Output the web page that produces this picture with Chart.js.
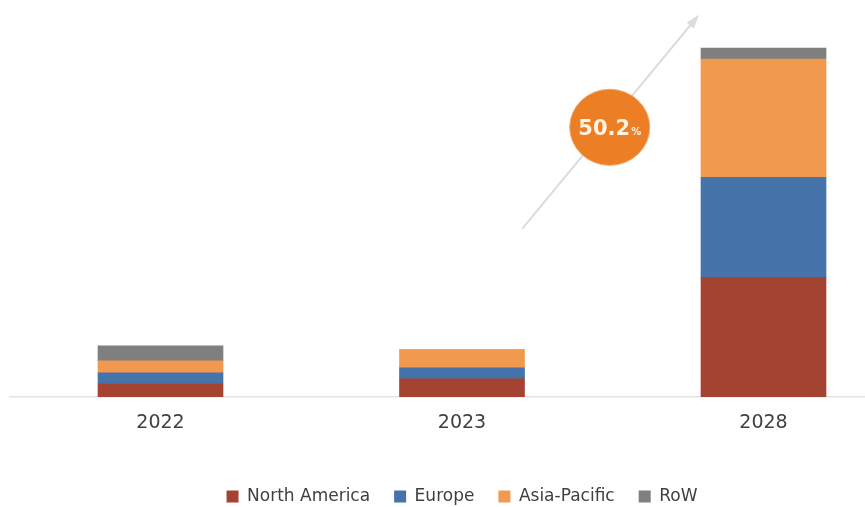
<!DOCTYPE html>
<html>
<head>
<meta charset="utf-8">
<script src="https://cdn.jsdelivr.net/npm/chart.js@4"></script>
<style>
  html, body { margin: 0; padding: 0; background: #fff; overflow: hidden; }
  #wrap { position: relative; width: 920px; height: 515px; }
</style>
</head>
<body>
<div id="wrap"><canvas id="regionChart"></canvas></div>
<script>
const years = ["2022", "2023", "2028"];
const northAmerica = [13, 18, 119];
const europe = [11, 11, 100];
const asiaPacific = [12, 18, 118];
const restOfWorld = [15, 0, 11];
const growthLabel = "50.2";

// arrow + bubble showing the CAGR
const cagrBadge = {
  id: "cagrBadge",
  afterDraw(chart) {
    const ctx = chart.ctx;
    const x = chart.scales.x;
    const y = chart.scales.y;
    const step = x.getPixelForValue(2) - x.getPixelForValue(1);
    const base = x.getPixelForValue(1);

    const x0 = base + step * 0.2, y0 = y.getPixelForValue(168);
    const x1 = base + step * 0.78, y1 = y.getPixelForValue(379);

    ctx.save();
    ctx.strokeStyle = "#dcdcdc";
    ctx.fillStyle = "#dcdcdc";
    ctx.lineWidth = 2;
    ctx.beginPath();
    ctx.moveTo(x0, y0);
    ctx.lineTo(x1, y1);
    ctx.stroke();
    const ang = Math.atan2(y1 - y0, x1 - x0);
    ctx.beginPath();
    ctx.moveTo(x1 + 3 * Math.cos(ang), y1 + 3 * Math.sin(ang));
    ctx.lineTo(x1 - 12 * Math.cos(ang - 0.4), y1 - 12 * Math.sin(ang - 0.4));
    ctx.lineTo(x1 - 12 * Math.cos(ang + 0.4), y1 - 12 * Math.sin(ang + 0.4));
    ctx.closePath();
    ctx.fill();

    const cx = base + step * 0.49, cy = y.getPixelForValue(269);
    ctx.beginPath();
    ctx.ellipse(cx, cy, 40, 38, 0, 0, Math.PI * 2);
    ctx.fillStyle = "#ec7f26";
    ctx.fill();
    ctx.strokeStyle = "#f3a664";
    ctx.lineWidth = 1;
    ctx.stroke();

    ctx.fillStyle = "#fff3e3";
    ctx.textBaseline = "alphabetic";
    ctx.font = "bold 21px 'DejaVu Sans', sans-serif";
    const w1 = ctx.measureText(growthLabel).width;
    ctx.font = "bold 10px 'DejaVu Sans', sans-serif";
    const w2 = ctx.measureText("%").width;
    const sx = cx - (w1 + w2 + 1) / 2;
    ctx.font = "bold 21px 'DejaVu Sans', sans-serif";
    ctx.fillText(growthLabel, sx, cy + 8);
    ctx.font = "bold 10px 'DejaVu Sans', sans-serif";
    ctx.fillText("%", sx + w1 + 1, cy + 8);
    ctx.restore();
  },
};

new Chart(document.getElementById("regionChart"), {
  type: "bar",
  data: {
    labels: years,
    datasets: [
      { label: "North America", data: northAmerica, backgroundColor: "#a54333" },
      { label: "Europe", data: europe, backgroundColor: "#4673aa" },
      { label: "Asia-Pacific", data: asiaPacific, backgroundColor: "#f0994f" },
      { label: "RoW", data: restOfWorld, backgroundColor: "#7f7f7f" },
    ],
  },
  options: {
    responsive: true,
    maintainAspectRatio: false,
    animation: false,
    layout: { padding: { left: 9.75, right: 5.75, top: 20, bottom: 0 } },
    datasets: { bar: { barThickness: 125 } },
    scales: {
      x: {
        stacked: true,
        grid: { display: false },
        border: { display: true, color: "#e3e3e3", width: 1.5 },
        ticks: {
          padding: 7,
          color: "#404040",
          font: { family: "'DejaVu Sans'", size: 19 },
        },
        afterFit(axis) {
          axis.height = 67;
        },
      },
      y: {
        stacked: true,
        display: false,
        min: 0,
        max: 376,
      },
    },
    plugins: {
      legend: {
        position: "bottom",
        labels: {
          boxWidth: 12,
          boxHeight: 12,
          padding: 24,
          color: "#404040",
          font: { family: "'DejaVu Sans'", size: 17 },
        },
      },
      tooltip: { enabled: false },
    },
  },
  plugins: [cagrBadge],
});
</script>
</body>
</html>
